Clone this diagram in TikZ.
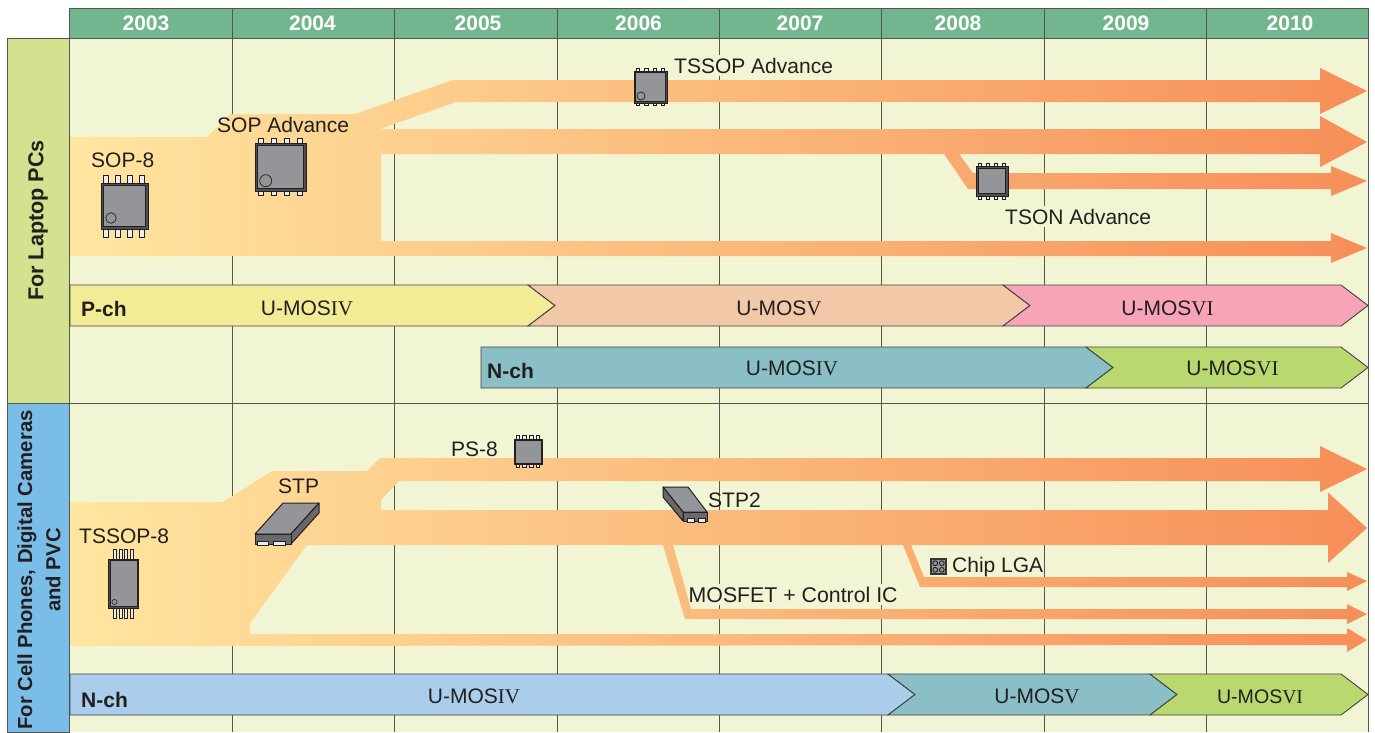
\documentclass[tikz,border=0pt]{standalone}
\usepackage{fontspec}
\setmainfont{Liberation Sans}
\newfontfamily\serifpart{Liberation Serif}
\usetikzlibrary{calc}
\definecolor{txt}{HTML}{231F20}
\definecolor{cellbg}{HTML}{F1F5D3}
\definecolor{headbg}{HTML}{72B68F}
\definecolor{greenside}{HTML}{D2E28E}
\definecolor{blueside}{HTML}{7ABDE8}
\definecolor{gridc}{HTML}{55574F}
\definecolor{orA}{HTML}{FFE6A0}
\definecolor{orB}{HTML}{FCB97A}
\definecolor{orC}{HTML}{F78E58}
\definecolor{yelbar}{HTML}{F2EC96}
\definecolor{peach}{HTML}{F1C8A8}
\definecolor{pinkbar}{HTML}{F7A4B8}
\definecolor{tealbar}{HTML}{8ABFC6}
\definecolor{greenbar}{HTML}{B9D870}
\definecolor{bluebar}{HTML}{ABCDEC}
\definecolor{chipg}{HTML}{939598}
\definecolor{chipd}{HTML}{4E4F51}
\definecolor{pinc}{HTML}{EDEDED}
\tikzset{
  lbl/.style={anchor=base west,inner sep=0pt,text=txt,font=\fontsize{21}{25}\selectfont},
  lblbg/.style={lbl,fill=cellbg,inner ysep=3pt,inner xsep=1pt},
  year/.style={anchor=base,inner sep=0pt,text=white,font=\bfseries\fontsize{21}{25}\selectfont},
  sidetxt/.style={rotate=90,anchor=center,inner sep=0pt,text=txt,align=center,font=\bfseries\fontsize{20.3}{25}\selectfont},
  sidebig/.style={sidetxt,font=\bfseries\fontsize{21.6}{25}\selectfont},
  chan/.style={anchor=base west,inner sep=0pt,text=txt,font=\bfseries\fontsize{21}{25}\selectfont},
  mos/.style={anchor=base,inner sep=0pt,text=txt,font=\fontsize{21}{25}\selectfont},
  mossmall/.style={mos,font=\fontsize{19.6}{25}\selectfont},
  gridline/.style={draw=gridc,line width=1pt},
  barshape/.style={draw=txt!85,line width=0.9pt,line join=miter},
  flow/.style={left color=orA,middle color=orB,right color=orC,shading angle=90},
  pin/.style={fill=pinc,draw=txt,line width=0.8pt},
  chipouter/.style={fill=chipd,draw=txt,line width=0.7pt},
  chipinner/.style={fill=chipg,draw=txt,line width=0.7pt},
  chipface/.style={fill=chipg,draw=txt,line width=1pt,line join=round},
  chipside/.style={fill=chipd!85!white,draw=txt,line width=1pt,line join=round},
}
\newcommand{\mosnum}[1]{U-MOS{\serifpart #1}}
% #1 fill, #2 x0, #3 x1, #4 top, #5 bottom, #6 notch depth
\newcommand{\barseg}[6]{%
  \pgfmathsetmacro{\ymid}{(#4+#5)/2}%
  \draw[barshape,fill=#1] (#2,#4) -- (#3,#4) -- ({#3+27},\ymid) -- (#3,#5) -- (#2,#5) -- ({#2+#6},\ymid) -- cycle;}
% #1 x0, #2 y0, #3 x1, #4 y1, #5 pin length, #6 pin width, #7 pin centres, #8 band
\newcommand{\chipbody}[8]{%
  \foreach \px in {#7}{%
    \draw[pin] ({\px-#6/2},{#2-#5}) rectangle ({\px+#6/2},{#2+1});
    \draw[pin] ({\px-#6/2},{#4-1}) rectangle ({\px+#6/2},{#4+#5});
  }%
  \draw[chipouter] (#1,#2) rectangle (#3,#4);
  \draw[chipinner] ({#1+#8},{#2+#8}) rectangle ({#3-#8},{#4-#8});}
\begin{document}
\begin{tikzpicture}[x=1pt,y=-1pt]
\useasboundingbox (0,0) rectangle (1375,732);
\fill[white] (0,0) rectangle (1375,732);
% backgrounds
\fill[cellbg] (69.5,38) rectangle (1368,732);
\fill[headbg] (69.5,8) rectangle (1368,38);
\draw[gridline,fill=greenside] (7,38) rectangle (69.5,403);
\draw[gridline,fill=blueside] (7,403) -- (69.5,403) -- (69.5,732) -- (7,732) -- cycle;
% grid
\foreach \gx in {69.5,232,394,557,719,881.5,1044,1206,1368}{
  \draw[gridline] (\gx,8) -- (\gx,732);
}
\draw[gridline] (69.5,8) -- (1368,8);
\draw[gridline] (7,38) -- (1368,38);
\draw[gridline] (7,403) -- (1368,403);
% years
\node[year] (y03) at (146,30) {2003};
\node[year] (y04) at (312.5,30) {2004};
\node[year] (y05) at (478,30) {2005};
\node[year] (y06) at (638.5,30) {2006};
\node[year] (y07) at (800,30) {2007};
\node[year] (y08) at (958,30) {2008};
\node[year] (y09) at (1126,30) {2009};
\node[year] (y10) at (1290,30) {2010};
% side
\node[sidebig] (sideA) at (38,220.5) {For Laptop PCs};
\node[sidetxt] (sideB) at (27,570) {For Cell Phones, Digital Cameras};
\node[sidetxt] (sideC) at (53,570) {and PVC};
% labels with cell background that break grid lines
\node[lblbg] (ltssopadv) at (673,73) {TSSOP Advance};
\node[lblbg] (ltson) at (1004,224) {TSON Advance};
\node[lblbg,font=\fontsize{21.3}{25}\selectfont] (lmosfet) at (687.5,602) {MOSFET + Control IC};
% upper flow
\shade[flow] (70,137) -- (207,137) -- (230,114) -- (355,114) -- (453,80) -- (1320,80) -- (1320,68) -- (1367,91)
  -- (1320,114) -- (1320,102) -- (456,102) -- (380,129) -- (1320,129) -- (1320,116) -- (1367,142) -- (1320,167)
  -- (1320,154) -- (959,154) -- (973,173) -- (1331,173) -- (1331,166) -- (1367,181) -- (1331,196) -- (1331,189)
  -- (968,189) -- (944,154) -- (381,154) -- (381,241) -- (1331,241) -- (1331,233) -- (1367,248) -- (1331,263)
  -- (1331,256) -- (70,256) -- cycle;
% lower flow
\shade[flow] (70,502) -- (223,502) -- (272,471) -- (367,471) -- (380,458) -- (1320,458) -- (1320,446) -- (1367,469)
  -- (1320,492) -- (1320,481) -- (399,481) -- (381,500) -- (381,510) -- (1328,510) -- (1328,492.5) -- (1367,528)
  -- (1328,563) -- (1328,545) -- (911,545) -- (924,577) -- (1347,577) -- (1347,572) -- (1367,581) -- (1347,591)
  -- (1347,587) -- (920,587) -- (903,545) -- (673,545) -- (691,609) -- (1347,609) -- (1347,604) -- (1367,614)
  -- (1347,624) -- (1347,619) -- (685,619) -- (663,545) -- (307,545) -- (250,623) -- (250,634) -- (1347,634)
  -- (1347,628) -- (1367,640) -- (1347,652) -- (1347,645) -- (70,646) -- cycle;
% generation bars
\barseg{yelbar}{70}{528}{285}{326}{0}
\barseg{peach}{528}{1003}{285}{326}{27}
\barseg{pinkbar}{1003}{1341}{285}{326}{27}
\barseg{tealbar}{481}{1086}{347}{388}{0}
\barseg{greenbar}{1086}{1341}{347}{388}{27}
\barseg{bluebar}{70}{888}{674}{715}{0}
\barseg{tealbar}{888}{1150}{674}{715}{27}
\barseg{greenbar}{1150}{1341}{674}{715}{27}
% bar labels
\node[chan] (pch) at (81,316) {P-ch};
\node[chan] (nch1) at (487,378) {N-ch};
\node[chan] (nch2) at (81,707) {N-ch};
\node[mos] (m1) at (307,315) {\mosnum{IV}};
\node[mos] (m2) at (779,315) {\mosnum{V}};
\node[mos] (m3) at (1167.5,315) {\mosnum{VI}};
\node[mos] (m4) at (792,375) {\mosnum{IV}};
\node[mos] (m5) at (1232.5,375) {\mosnum{VI}};
\node[mos] (m6) at (474,703) {\mosnum{IV}};
\node[mos] (m7) at (1037,703) {\mosnum{V}};
\node[mossmall] (m8) at (1260,703) {\mosnum{VI}};
% chips
\chipbody{101}{183}{148}{229}{8}{5}{106,118,130,142}{2.5}
\draw[txt,line width=0.7pt] (111,218) circle (5.3);
\chipbody{255}{143}{306}{191}{4.5}{5}{261,274,287,300}{2.5}
\draw[txt,line width=0.7pt] (265.7,180.7) circle (6);
\chipbody{108.5}{559}{138.5}{608}{10}{3.6}{115,120.7,126,131.7}{1.5}
\draw[txt,line width=0.6pt] (114.5,602) circle (2.6);
\chipbody{634}{71}{667}{103}{2.8}{3.6}{638,646.5,655,663}{1.8}
\draw[txt,line width=0.7pt] (641,96) circle (4);
\chipbody{976}{166}{1008}{196}{3}{3.6}{980,988,996,1004}{2.2}
\chipbody{514}{439}{542}{464}{3.2}{3.6}{518,524.5,531.5,538}{1}
% STP
\draw[chipface] (255,534) -- (283,503) -- (319,503) -- (291,534) -- cycle;
\draw[chipside] (291,534) -- (319,503) -- (319,513) -- (291,544) -- cycle;
\draw[chipside] (255,534) -- (291,534) -- (291,544) -- (255,544) -- cycle;
\draw[pin] (257,541) rectangle (268.5,545);
\draw[pin] (273.5,541) rectangle (285,545);
% STP2
\draw[chipface] (663,487) -- (688,487) -- (707,512) -- (683,512) -- cycle;
\draw[chipside] (663,487) -- (683,512) -- (683,521) -- (663,497) -- cycle;
\draw[chipside] (683,512) -- (707,512) -- (707,521) -- (683,521) -- cycle;
\draw[pin] (687,518) rectangle (694.5,522);
\draw[pin] (698,518) rectangle (705.5,522);
% LGA
\fill[txt!90] (930,558) rectangle (947,575);
\fill[chipg] (932,560) rectangle (945,573);
\foreach \cx in {935.2,941.8}{\foreach \cy in {563.2,569.8}{
  \draw[txt,line width=0.9pt] (\cx,\cy) circle (2.4);
}}
% labels
\node[lbl] (lsop) at (91,167) {SOP-8};
\node[lbl] (lsopadv) at (217,132) {SOP Advance};
\node[lbl] (ltssop) at (79,543) {TSSOP-8};
\node[lbl] (lstp) at (278,493) {STP};
\node[lbl] (lps) at (451,456) {PS-8};
\node[lbl] (lstp2) at (708,507) {STP2};
\node[lbl] (llga) at (952,572) {Chip LGA};
\end{tikzpicture}
\end{document}
